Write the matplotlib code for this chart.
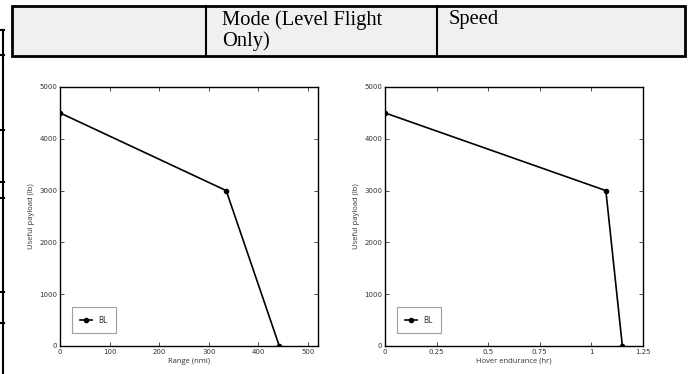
import matplotlib.pyplot as plt
from matplotlib.patches import Rectangle
from matplotlib.lines import Line2D

W, H = 688, 374

# chart data
payload = [4500, 3000, 0]
range_nmi = [0, 335, 442]
hover_hr = [0, 1.07, 1.15]
range_ticks = [0, 100, 200, 300, 400, 500]
hover_ticks = [0, 0.25, 0.5, 0.75, 1, 1.25]
hover_ticklabels = ['0', '0.25', '0.5', '0.75', '1', '1.25']
payload_ticks = [0, 1000, 2000, 3000, 4000, 5000]
header_cells = ['', 'Mode (Level Flight\nOnly)', 'Speed']


def fx(px):
    return px / W


def fy(py):
    return 1 - py / H


fig = plt.figure(figsize=(W / 100, H / 100), dpi=100)

# table header row from the surrounding document
fig.add_artist(Rectangle((fx(12), fy(56)), fx(673), 50 / H, transform=fig.transFigure,
                         facecolor='#f0f0f0', edgecolor='black', lw=2))
for xd in [206, 437]:
    fig.add_artist(Line2D([fx(xd), fx(xd)], [fy(6), fy(56)], color='black', lw=1.5))
fig.text(fx(222), fy(10), header_cells[1], family='Liberation Serif', fontsize=14.8,
         va='top', ha='left', linespacing=1.08)
fig.text(fx(449), fy(10), header_cells[2], family='Liberation Serif', fontsize=14.8,
         va='top', ha='left')

# fragment of another table on the left edge
fig.add_artist(Line2D([fx(3), fx(3)], [fy(30), 0], color='black', lw=1.5))
for yy in [30, 55, 130, 182, 198, 292, 323]:
    fig.add_artist(Line2D([0, fx(4)], [fy(yy), fy(yy)], color='black', lw=1.5))


def panel(left, right, x, xlim, xticks, xticklabels, xlabel):
    ax = fig.add_axes([fx(left), fy(346), (right - left) / W, 259 / H])
    ax.plot(x, payload, color='black', lw=1.2, marker='o', ms=3, label='BL')
    ax.set_xlim(*xlim)
    ax.set_ylim(0, 5000)
    ax.set_xticks(xticks)
    ax.set_xticklabels(xticklabels)
    ax.set_yticks(payload_ticks)
    ax.tick_params(direction='in', top=True, right=True, length=3, width=0.6,
                   labelsize=5, colors='#333333', pad=2)
    for s in ax.spines.values():
        s.set_linewidth(1.0)
    ax.set_xlabel(xlabel, fontsize=5.5, color='#333333', labelpad=2, family='Open Sans')
    ax.set_ylabel('Useful payload (lb)', fontsize=5.5, color='#333333', labelpad=3,
                  family='Open Sans')
    leg = ax.legend(loc='lower left', bbox_to_anchor=(0.03, 0.035), fontsize=5.5,
                    fancybox=False, edgecolor='#888888', handlelength=1.6,
                    borderpad=1.1, labelcolor='#333333')
    leg.get_frame().set_linewidth(0.8)
    return ax


panel(60, 318, range_nmi, (0, 520), range_ticks, [str(t) for t in range_ticks], 'Range (nmi)')
panel(385, 643, hover_hr, (0, 1.25), hover_ticks, hover_ticklabels, 'Hover endurance (hr)')

fig.savefig('out.png', dpi=100)
